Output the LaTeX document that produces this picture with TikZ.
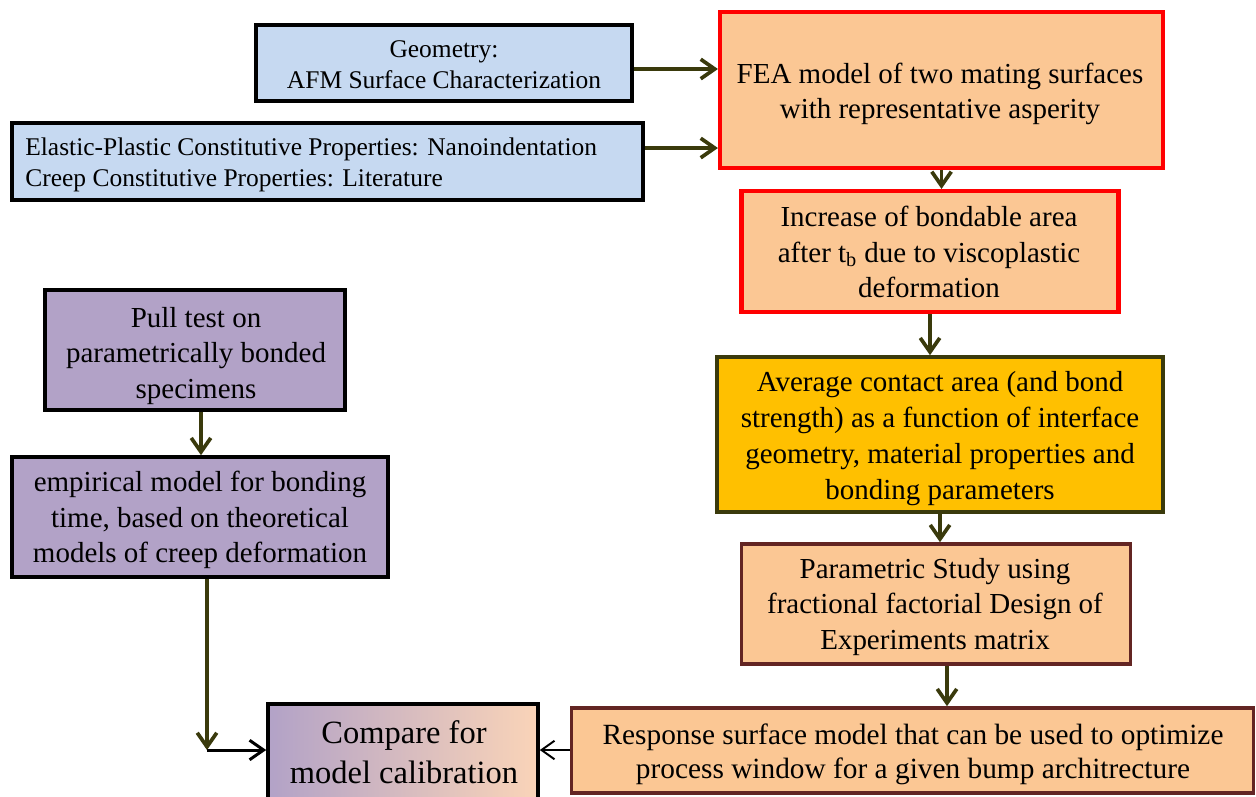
\documentclass[tikz,border=0pt]{standalone}
\usepackage{fontspec}
\setmainfont{Liberation Serif}
\usetikzlibrary{arrows.meta}
\definecolor{bluefill}{HTML}{C6D9F1}
\definecolor{peach}{HTML}{FBC794}
\definecolor{lilac}{HTML}{B2A2C7}
\definecolor{gold}{HTML}{FFC000}
\definecolor{redline}{HTML}{FF0000}
\definecolor{olive}{HTML}{3A3A0C}
\definecolor{brownline}{HTML}{632523}
\definecolor{tanmid}{HTML}{D4AA8C}
\definecolor{peachlight}{HTML}{FAD4B8}
\tikzset{
  box/.style={draw, line width=2.1pt, inner sep=0pt},
  bluebox/.style={box, fill=bluefill, draw=black},
  redbox/.style={box, fill=peach, draw=redline, line width=2.4pt},
  lilacbox/.style={box, fill=lilac, draw=black},
  goldbox/.style={box, fill=gold, draw=olive},
  brownbox/.style={box, fill=peach, draw=brownline},
  txt/.style={align=center, inner sep=0pt, text=black, font=\fontsize{16.5}{20}\selectfont},
  smalltxt/.style={txt, font=\fontsize{14.5}{17.5}\selectfont},
  oarrow/.style={draw=olive, line width=2.1pt, -{Straight Barb[length=2.8mm, width=3.9mm, line width=2.1pt]}},
  karrow/.style={draw=black, line width=1.7pt, -{Straight Barb[length=2.8mm, width=3.9mm, line width=1.7pt]}},
  kthin/.style={draw=black, line width=1.1pt, -{Straight Barb[length=2.6mm, width=3.7mm, line width=1.1pt]}}
}
\begin{document}
\begin{tikzpicture}[x=0.02cm, y=-0.02cm]
\useasboundingbox (0,0) rectangle (1256,796);
\fill[white] (0,0) rectangle (1256,796);

% boxes
\node[bluebox, minimum width=7.52cm, minimum height=1.52cm] (geo) at (444,63) {};
\node[bluebox, minimum width=12.62cm, minimum height=1.54cm] (ela) at (327.5,161.5) {};
\node[redbox, minimum width=8.86cm, minimum height=3.12cm] (fea) at (941.5,90) {};
\node[redbox, minimum width=7.54cm, minimum height=2.42cm] (inc) at (930,251.5) {};
\node[lilacbox, minimum width=6.0cm, minimum height=2.4cm] (pull) at (195,350) {};
\node[lilacbox, minimum width=7.52cm, minimum height=2.4cm] (emp) at (200,517) {};
\node[goldbox, minimum width=8.92cm, minimum height=3.1cm] (avg) at (940,434.5) {};
\node[brownbox, minimum width=7.78cm, minimum height=2.4cm] (par) at (936,604) {};
\node[brownbox, minimum width=13.64cm, minimum height=1.7cm] (resp) at (912.5,750.5) {};
\node[box, draw=black, left color=lilac, middle color=tanmid, right color=peachlight,
      minimum width=5.4cm, minimum height=1.94cm] (cmp) at (403,752.5) {};

% texts
\node[smalltxt] (geoT) at (444,65) {Geometry:\\AFM Surface Characterization};
\node[smalltxt, align=left, anchor=west] (elaT) at (25,165)
  {Elastic-Plastic Constitutive Properties: Nanoindentation\\Creep Constitutive Properties: Literature};
\node[txt] (feaT) at (940,94) {FEA model of two mating surfaces\\with representative asperity};
\node[txt] (incT) at (929,252) {Increase of bondable area\\after t\textsubscript{b} due to viscoplastic\\deformation};
\node[txt] (pullT) at (196,356) {Pull test on\\parametrically bonded\\specimens};
\node[txt] (empT) at (200,520) {empirical model for bonding\\time, based on theoretical\\models of creep deformation};
\node[txt, font=\fontsize{16.5}{20.5}\selectfont] (avgT) at (940,439)
  {Average contact area (and bond\\strength) as a function of interface\\geometry, material properties and\\bonding parameters};
\node[txt] (parT) at (935,607) {Parametric Study using\\fractional factorial Design of\\Experiments matrix};
\node[txt, font=\fontsize{16.7}{19.5}\selectfont] (respT) at (913,754)
  {Response surface model that can be used to optimize\\process window for a given bump architrecture};
\node[txt, font=\fontsize{18.5}{22.5}\selectfont] (cmpT) at (404,752) {Compare for\\model calibration};

% connectors
\draw[oarrow] ([yshift=-0.12cm]geo.east) -- ([yshift=-0.12cm]geo.east -| fea.west);
\draw[oarrow] ([yshift=0.27cm]ela.east) -- ([yshift=0.27cm]ela.east -| fea.west);
\draw[oarrow] (fea.south) -- (fea.south |- inc.north);
\draw[oarrow] (inc.south) -- (inc.south |- avg.north);
\draw[oarrow] (avg.south) -- (avg.south |- par.north);
\draw[oarrow] ([xshift=0.22cm]par.south) -- ([xshift=0.22cm]par.south |- resp.north);
\draw[oarrow] ([xshift=0.12cm]pull.south) -- ([xshift=0.12cm]pull.south |- emp.north);
\coordinate (corner) at (207,750);
\draw[oarrow] (corner |- emp.south) -- (corner);
\draw[karrow] (corner) -- (corner -| cmp.west);
\draw[kthin] (resp.west |- corner) -- (corner -| cmp.east);
\end{tikzpicture}
\end{document}
